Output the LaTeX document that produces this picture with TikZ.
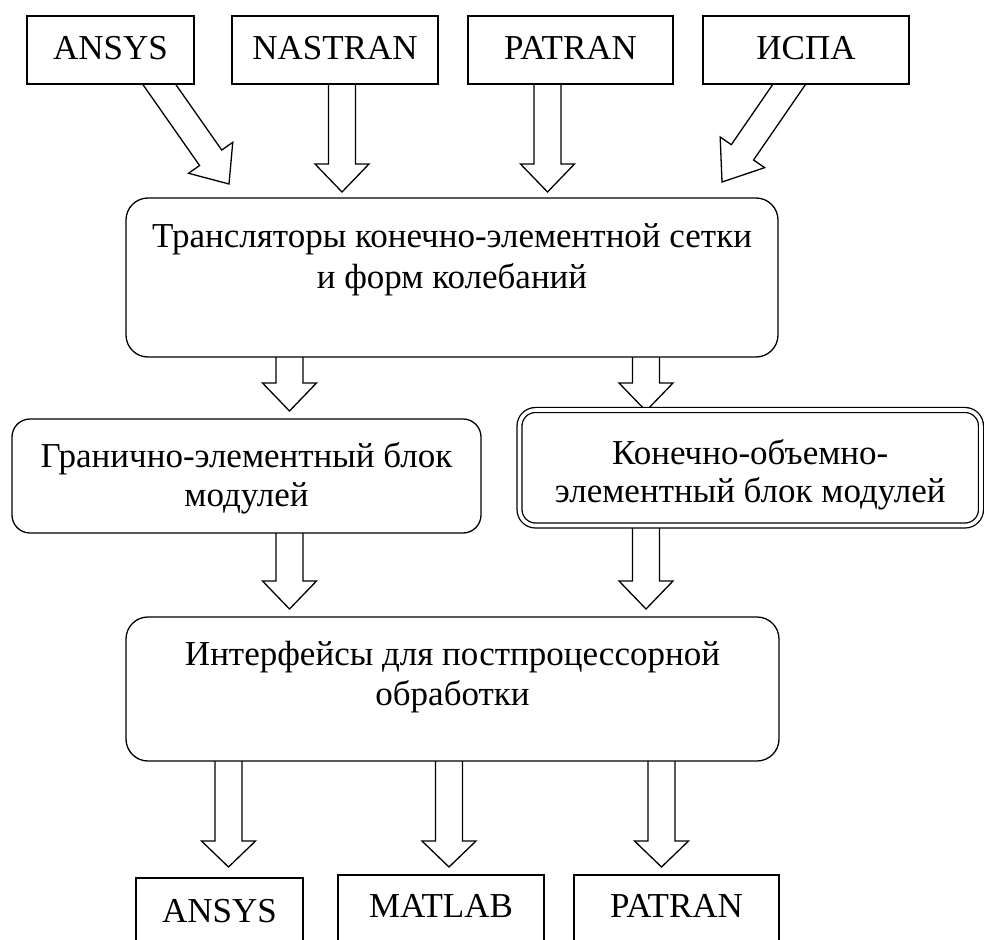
\documentclass[tikz,border=0pt]{standalone}
\usepackage{fontspec}
\setmainfont{Liberation Serif}
\usetikzlibrary{calc}
\tikzset{
  lw/.style={line width=1.3pt},
  sqbox/.style={draw, lw, fill=white, inner sep=0pt},
  rbox/.style={draw, lw, fill=white, inner sep=0pt, rounded corners=#1},
  lbl/.style={font=\fontsize{35}{41}\selectfont, inner sep=0pt, anchor=base},
  blockarrow/.style={draw, lw, fill=white, line join=miter}
}
% #1 head length, #2 start coordinate, #3 tip coordinate
\newcommand{\barrow}[3][28pt]{%
  \coordinate (hb) at ($(#3)!#1!(#2)$);
  \draw[blockarrow] ($(#2)!13.5pt!90:(#3)$) -- ($(hb)!13.5pt!-90:(#2)$) -- ($(hb)!27pt!-90:(#2)$) -- (#3) -- ($(hb)!27pt!90:(#2)$) -- ($(hb)!13.5pt!90:(#2)$) -- ($(#2)!13.5pt!-90:(#3)$);
}
\begin{document}
\begin{tikzpicture}[x=1pt,y=-1pt]
\useasboundingbox (0,0) rectangle (984,939);
\clip (0,0) rectangle (984,939);
\fill[white] (0,0) rectangle (984,939);

% connector end points
\coordinate (s1) at (147.5,67.6);  \coordinate (e1) at (229,184);
\coordinate (s2) at (342,70);      \coordinate (e2) at (342,192);
\coordinate (s3) at (547.5,70);    \coordinate (e3) at (547.5,192);
\coordinate (s4) at (800.8,67.5);  \coordinate (e4) at (722,182);
\coordinate (s5) at (289.5,345);   \coordinate (e5) at (289.5,411);
\coordinate (s6) at (646,345);     \coordinate (e6) at (646,411);
\coordinate (s7) at (289.5,520);   \coordinate (e7) at (289.5,609);
\coordinate (s8) at (646,515);     \coordinate (e8) at (646,609);
\coordinate (s9) at (228.5,750);   \coordinate (e9) at (228.5,867);
\coordinate (s10) at (449,750);    \coordinate (e10) at (449,867);
\coordinate (s11) at (661.5,750);  \coordinate (e11) at (661.5,867);

% block arrows
\barrow[32pt]{s1}{e1}
\barrow{s2}{e2}
\barrow{s3}{e3}
\barrow[36pt]{s4}{e4}
\barrow{s5}{e5}
\barrow{s6}{e6}
\barrow{s7}{e7}
\barrow{s8}{e8}
\barrow[26pt]{s9}{e9}
\barrow[26pt]{s10}{e10}
\barrow[26pt]{s11}{e11}

% top boxes
\node[sqbox, minimum width=167pt, minimum height=68pt] (ansys) at (110.5,50) {};
\node[sqbox, minimum width=206pt, minimum height=68pt] (nastran) at (335,50) {};
\node[sqbox, minimum width=205pt, minimum height=68pt] (patran) at (570.5,50) {};
\node[sqbox, minimum width=206pt, minimum height=68pt] (ispa) at (806,50) {};
\node[lbl] (tansys) at (110.5,60) {ANSYS};
\node[lbl] (tnastran) at (335,60) {NASTRAN};
\node[lbl] (tpatran) at (570.5,60) {PATRAN};
\node[lbl] (tispa) at (806,60) {ИСПА};

% translators
\node[rbox=22pt, minimum width=652pt, minimum height=159pt] (trans) at (452,277.5) {};
\node[lbl] (trans1) at (452,247) {Трансляторы конечно-элементной сетки};
\node[lbl] (trans2) at (452,288) {и форм колебаний};

% boundary element block
\node[rbox=18pt, minimum width=469pt, minimum height=114pt] (gran) at (246.5,476) {};
\node[lbl] (gran1) at (246.5,467) {Гранично-элементный блок};
\node[lbl] (gran2) at (246.5,506) {модулей};

% finite volume block (double border)
\node[rbox=16pt, double, double distance=3.6pt, minimum width=461.5pt, minimum height=115.5pt] (kon) at (750.25,467.75) {};
\node[lbl] (kon1) at (750.25,464) {Конечно-объемно-};
\node[lbl] (kon2) at (750.25,502) {элементный блок модулей};

% interfaces
\node[rbox=22pt, minimum width=653pt, minimum height=144pt] (intf) at (452.5,689) {};
\node[lbl] (intf1) at (452.5,665) {Интерфейсы для постпроцессорной};
\node[lbl] (intf2) at (452.5,705) {обработки};

% bottom boxes
\node[sqbox, minimum width=167pt, minimum height=82pt] (bansys) at (219.5,919) {};
\node[sqbox, minimum width=206pt, minimum height=85pt] (bmatlab) at (441,917.5) {};
\node[sqbox, minimum width=205pt, minimum height=85pt] (bpatran) at (676.5,917.5) {};
\node[lbl] (tbansys) at (219.5,922) {ANSYS};
\node[lbl] (tbmatlab) at (441,917) {MATLAB};
\node[lbl] (tbpatran) at (676.5,917) {PATRAN};
\end{tikzpicture}
\end{document}
